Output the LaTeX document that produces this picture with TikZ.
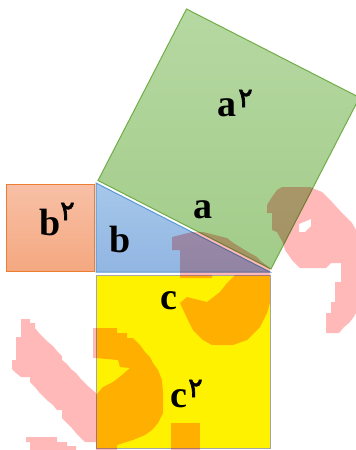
\documentclass[tikz,border=0pt]{standalone}
\usepackage{fontspec}
\setmainfont{Liberation Serif}
\newfontfamily\arabicfont[Script=Arabic,FakeBold=2.5]{DejaVu Sans}
\definecolor{orline}{RGB}{237,125,49}
\definecolor{ortop}{RGB}{248,192,166}
\definecolor{orbot}{RGB}{244,168,128}
\definecolor{grline}{RGB}{112,173,71}
\definecolor{grtop}{RGB}{182,216,162}
\definecolor{grbot}{RGB}{162,204,137}
\definecolor{blline}{RGB}{91,155,213}
\definecolor{bltop}{RGB}{166,199,234}
\definecolor{blbot}{RGB}{145,182,226}
\definecolor{yeline}{RGB}{165,165,165}
\definecolor{wmark}{RGB}{255,185,185}
\begin{document}
\begin{tikzpicture}[x=1pt,y=-1pt,
  sqorange/.style={draw=orline,line width=1pt,top color=ortop,bottom color=orbot},
  sqgreen/.style={draw=grline,line width=1pt,top color=grtop,bottom color=grbot},
  triblue/.style={draw=blline,line width=1pt,top color=bltop,bottom color=blbot},
  sqyellow/.style={draw=yeline,line width=1pt,fill=yellow},
  wm/.style={fill=wmark,blend mode=multiply},
  lbl/.style={inner sep=0pt,anchor=base west,font=\fontsize{38}{38}\selectfont\bfseries},
  sup/.style={inner sep=0pt,anchor=base west,font=\fontsize{27}{27}\selectfont\arabicfont}]
\useasboundingbox (0,0) rectangle (356,450);
% shapes
\draw[sqorange] (6,184) rectangle (94,271);
\draw[triblue] (96,183) -- (96,272) -- (270,272) -- cycle;
\draw[sqgreen] (98,180.5) -- (271,269) -- (359.5,97.5) -- (186.5,9) -- cycle;
\draw[sqyellow] (96,275) rectangle (270,448);
% watermark
\fill[wm] (172,237) -- (192,232) -- (203,232) -- (215,235) -- (227,238) -- (232,242) -- (240,247) -- (248,252) -- (257,257) -- (262,262) -- (270,268) -- (270,303) -- (267,313) -- (260,327) -- (247,340) -- (233,345) -- (212,345) -- (203,340) -- (193,330) -- (187,318) -- (180,303) -- (187,297) -- (207,302) -- (220,292) -- (227,283) -- (235,275) -- (212,275) -- (212,278) -- (180,278) -- (180,250) -- (172,250) -- cycle;
\fill[wm,even odd rule] (282,187) -- (310,187) -- (322,192) -- (332,202) -- (342,213) -- (352,223) -- (356,230) -- (356,313) -- (353,318) -- (349,323) -- (344,327) -- (339,333) -- (326,333) -- (326,313) -- (331,313) -- (331,302) -- (335,302) -- (335,282) -- (341,282) -- (341,263) -- (331,263) -- (326,268) -- (300,268) -- (292,260) -- (285,250) -- (283,243) -- (277,232) -- (272,230) -- (272,213) -- (267,213) -- (267,205) -- (272,197) -- (277,190) -- cycle
  (299,224) -- (311,219) -- (311,226) -- (305,232) -- (299,232) -- cycle;
\fill[wm] (93,328) -- (117,328) -- (117,333) -- (127,333) -- (127,338) -- (133,338) -- (140,345) -- (145,352) -- (150,357) -- (153,363) -- (158,370) -- (162,380) -- (163,393) -- (163,413) -- (158,423) -- (152,430) -- (145,435) -- (133,440) -- (117,445) -- (117,450) -- (96,450) -- (96,395) -- (103,387) -- (113,382) -- (122,375) -- (130,368) -- (120,367) -- (118,360) -- (96,358) -- (93,358) -- cycle;
\fill[wm] (21,319) -- (30,319) -- (30,323) -- (35,323) -- (35,328) -- (39,333) -- (43,337) -- (48,342) -- (53,346) -- (57,351) -- (62,356) -- (62,360) -- (67,364) -- (71,369) -- (76,373) -- (80,378) -- (85,383) -- (89,387) -- (96,393) -- (96,442) -- (85,442) -- (80,437) -- (76,433) -- (71,427) -- (67,423) -- (62,418) -- (62,410) -- (57,410) -- (53,405) -- (48,401) -- (43,396) -- (39,392) -- (35,387) -- (30,382) -- (30,377) -- (21,377) -- (16,373) -- (12,369) -- (12,360) -- (16,360) -- (16,337) -- (21,337) -- cycle;
\fill[wm] (26,437) -- (57,437) -- (57,442) -- (67,442) -- (67,446) -- (76,446) -- (76,450) -- (30,450) -- (30,442) -- (26,442) -- cycle;
\fill[wm] (171,423) rectangle (200,450);
% labels
\node[lbl] (asq) at (217,116) {a};
\node[sup] (asqs) at (238,107) {۲};
\node[lbl] (alab) at (193,218) {a};
\node[lbl] (bsq) at (39,235) {b};
\node[sup] (bsqs) at (60,220) {۲};
\node[lbl] (blab) at (109,252) {b};
\node[lbl] (clab) at (160,309) {c};
\node[lbl] (csq) at (170,407) {c};
\node[sup] (csqs) at (188,397) {۲};
\end{tikzpicture}
\end{document}
